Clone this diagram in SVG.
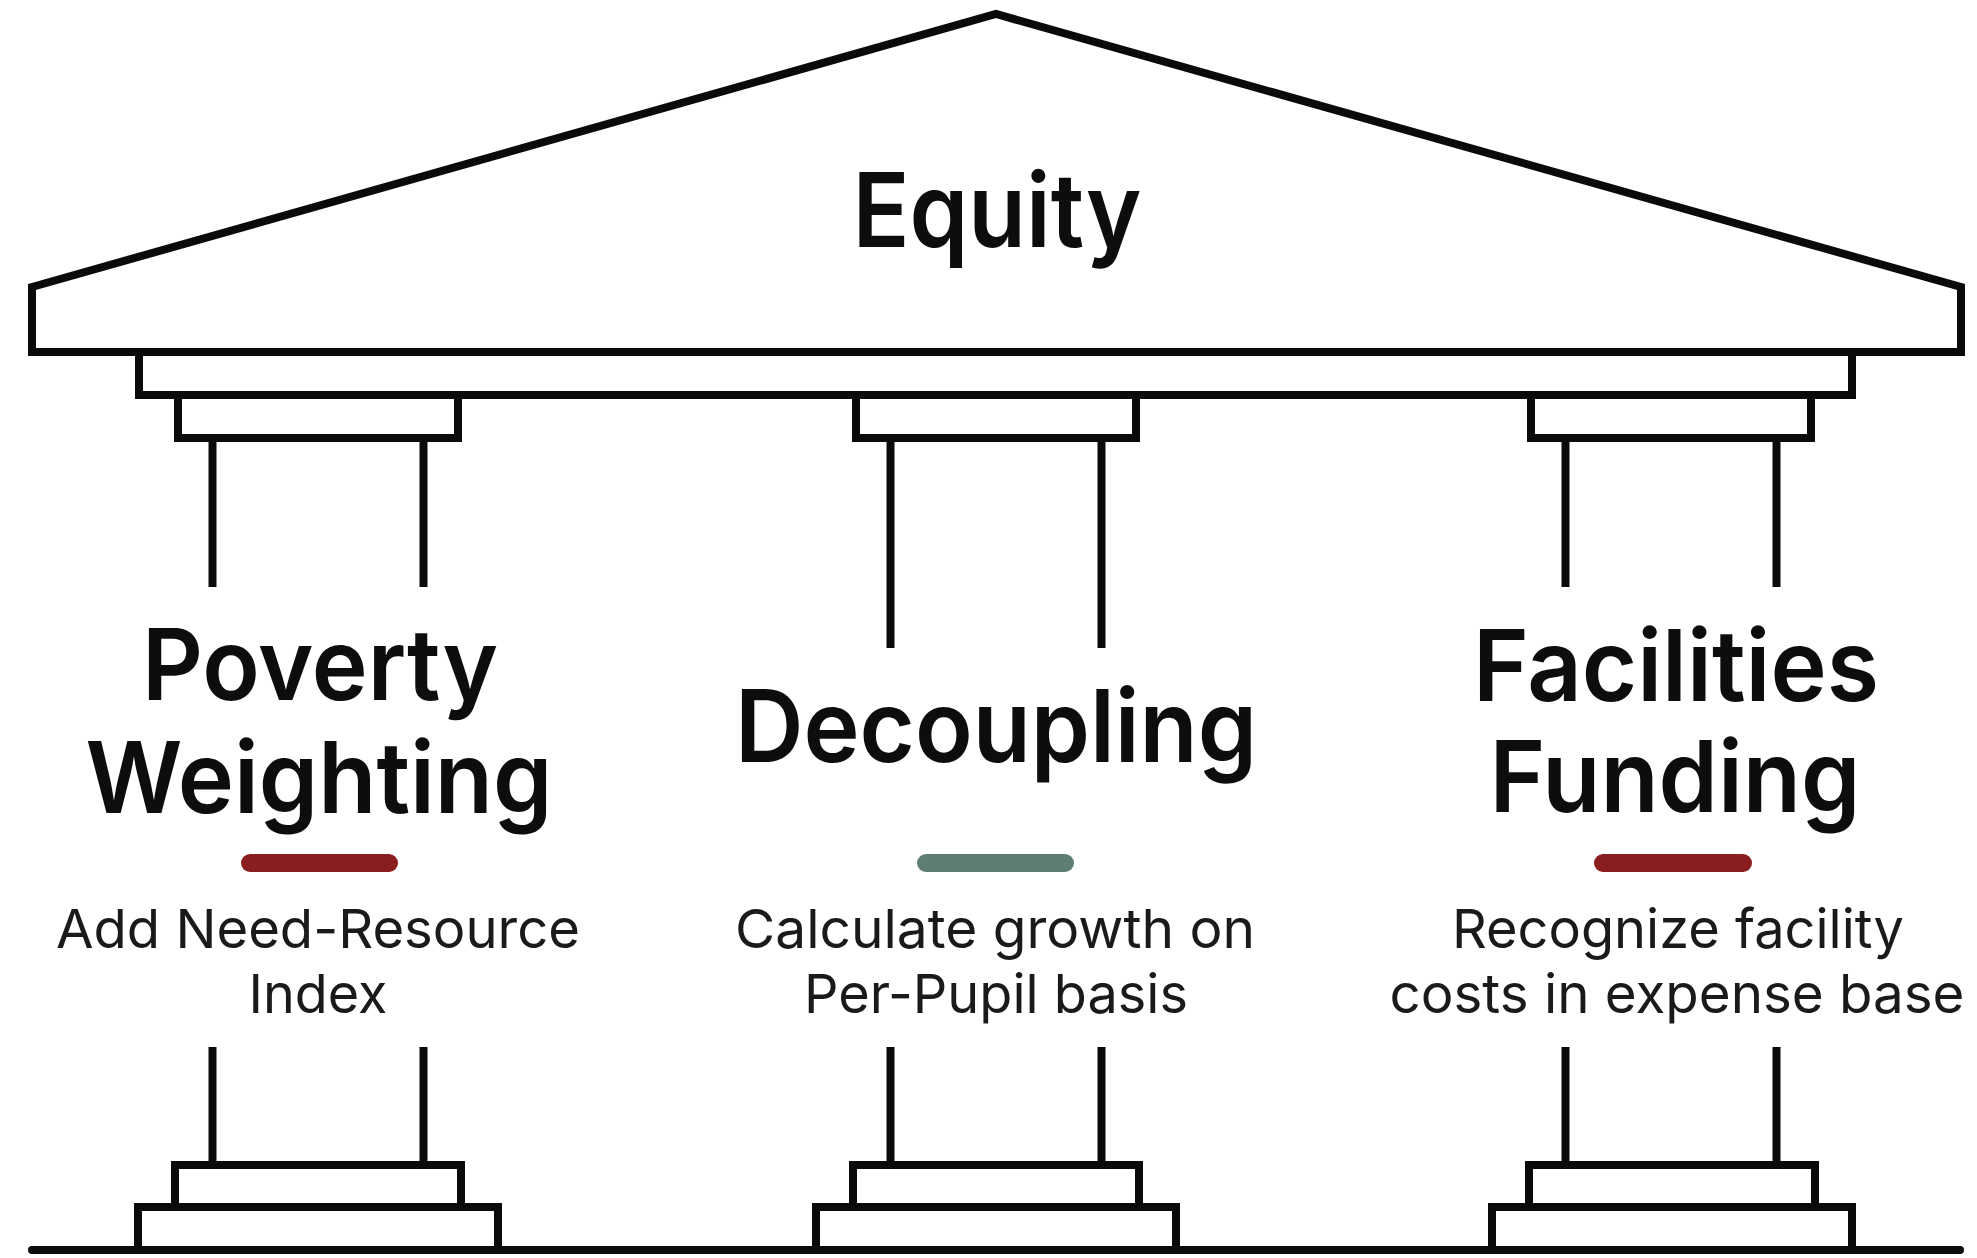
<svg xmlns="http://www.w3.org/2000/svg" width="1977" height="1258" viewBox="0 0 1977 1258">
  <style>
    .ln { fill: #ffffff; stroke: #0a0a0a; stroke-width: 8; stroke-linejoin: miter; }
    .col { fill: none; stroke: #0a0a0a; stroke-width: 8; stroke-linecap: butt; }
    .head { font-family: Inter, "Noto Sans", "Liberation Sans", sans-serif; font-weight: 600; fill: #0d0d0d; text-anchor: middle; }
    .desc { font-family: Inter, "Noto Sans", "Liberation Sans", sans-serif; font-weight: 400; font-size: 54px; fill: #1a1a1a; text-anchor: middle; }
    .red { fill: #8a1d1d; }
    .green { fill: #5f7e73; }
  </style>
  <rect x="0" y="0" width="1977" height="1258" fill="#ffffff"/>

  <g id="roof">
    <rect class="ln" x="139" y="352" width="1713" height="43"/>
    <polygon class="ln" points="32,287 996,14 1961,287 1961,352 32,352"/>
    <text class="head" x="997" y="247" font-size="103" textLength="289" lengthAdjust="spacingAndGlyphs">Equity</text>
  </g>

  <g id="pillar-poverty">
    <rect class="ln" x="178" y="395" width="280" height="43"/>
    <line class="col" x1="212.5" y1="438" x2="212.5" y2="587"/>
    <line class="col" x1="423.5" y1="438" x2="423.5" y2="587"/>
    <text class="head" x="320" y="700" font-size="99" textLength="356" lengthAdjust="spacingAndGlyphs">Poverty</text>
    <text class="head" x="319" y="813" font-size="99" textLength="467" lengthAdjust="spacingAndGlyphs">Weighting</text>
    <rect class="red" x="241" y="854" width="157" height="18" rx="9"/>
    <text class="desc" x="318" y="948" textLength="524" lengthAdjust="spacingAndGlyphs">Add Need-Resource</text>
    <text class="desc" x="318" y="1013" textLength="139" lengthAdjust="spacingAndGlyphs">Index</text>
    <line class="col" x1="212.5" y1="1047" x2="212.5" y2="1165"/>
    <line class="col" x1="423.5" y1="1047" x2="423.5" y2="1165"/>
    <rect class="ln" x="175" y="1165" width="286" height="42"/>
    <rect class="ln" x="138" y="1207" width="360" height="43"/>
  </g>

  <g id="pillar-decoupling">
    <rect class="ln" x="856" y="395" width="280" height="43"/>
    <line class="col" x1="890.5" y1="438" x2="890.5" y2="648"/>
    <line class="col" x1="1101.5" y1="438" x2="1101.5" y2="648"/>
    <text class="head" x="996" y="762" font-size="100" textLength="522" lengthAdjust="spacingAndGlyphs">Decoupling</text>
    <rect class="green" x="917" y="854" width="157" height="18" rx="9"/>
    <text class="desc" x="995" y="948" textLength="520" lengthAdjust="spacingAndGlyphs">Calculate growth on</text>
    <text class="desc" x="996" y="1013" textLength="384" lengthAdjust="spacingAndGlyphs">Per-Pupil basis</text>
    <line class="col" x1="890.5" y1="1047" x2="890.5" y2="1165"/>
    <line class="col" x1="1101.5" y1="1047" x2="1101.5" y2="1165"/>
    <rect class="ln" x="853" y="1165" width="286" height="42"/>
    <rect class="ln" x="816" y="1207" width="360" height="43"/>
  </g>

  <g id="pillar-facilities">
    <rect class="ln" x="1531" y="395" width="280" height="43"/>
    <line class="col" x1="1565.5" y1="438" x2="1565.5" y2="587"/>
    <line class="col" x1="1776.5" y1="438" x2="1776.5" y2="587"/>
    <text class="head" x="1676" y="701" font-size="99" textLength="406" lengthAdjust="spacingAndGlyphs">Facilities</text>
    <text class="head" x="1675" y="812" font-size="99" textLength="371" lengthAdjust="spacingAndGlyphs">Funding</text>
    <rect class="red" x="1594" y="854" width="158" height="18" rx="9"/>
    <text class="desc" x="1678" y="948" textLength="452" lengthAdjust="spacingAndGlyphs">Recognize facility</text>
    <text class="desc" x="1677" y="1013" textLength="575" lengthAdjust="spacingAndGlyphs">costs in expense base</text>
    <line class="col" x1="1565.5" y1="1047" x2="1565.5" y2="1165"/>
    <line class="col" x1="1776.5" y1="1047" x2="1776.5" y2="1165"/>
    <rect class="ln" x="1529" y="1165" width="286" height="42"/>
    <rect class="ln" x="1492" y="1207" width="360" height="43"/>
  </g>

  <g id="ground">
    <line x1="32" y1="1250" x2="1960" y2="1250" stroke="#0a0a0a" stroke-width="8" stroke-linecap="round"/>
  </g>
</svg>
